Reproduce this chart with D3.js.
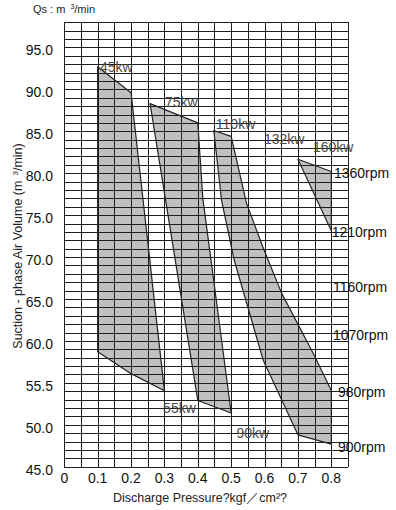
<!DOCTYPE html>
<html>
<head>
<meta charset="utf-8">
<script src="https://d3js.org/d3.v7.min.js"></script>
<style>
  body { margin: 0; background: #fff; }
  svg { display: block; font-family: "Liberation Sans", Arial, sans-serif; }
</style>
</head>
<body>
<div id="chart"></div>
<script>
// axis ticks
const xTicks = [0, 0.1, 0.2, 0.3, 0.4, 0.5, 0.6, 0.7, 0.8];
const yTicks = [45, 50, 55, 60, 65, 70, 75, 80, 85, 90, 95];
const yTickLabels = ["45.0", "50.0", "55.5", "60.0", "65.0", "70.0", "75.0", "80.0", "85.0", "90.0", "95.0"];

// operating envelopes: [pressure kgf/cm2, suction volume m3/min]
const envelopeA = [[0.1, 92.7], [0.2, 89.6], [0.3, 54.05], [0.2, 56.1], [0.1, 58.7]];
const envelopeB = [[0.257, 88.3], [0.4, 86.0], [0.415, 77.0], [0.455, 65.0], [0.5, 51.4], [0.4, 52.9]];
const envelopeC = [[0.448, 85.1], [0.5, 84.4], [0.546, 76.4], [0.594, 71.3], [0.651, 65.7],
                   [0.746, 58.5], [0.8, 54.1], [0.8, 47.7], [0.7, 48.8], [0.596, 57.7],
                   [0.509, 69.65], [0.471, 76.8]];
const envelopeD = [[0.7, 81.66], [0.8, 80.2], [0.8, 73.15]];
const envelopes = [envelopeA, envelopeB, envelopeC, envelopeD];

// motor power labels, anchored in data units
const kwNames = ["45kw", "75kw", "110kw", "132kw", "160kw", "55kw", "90kw"];
const kwPressure = [0.107, 0.3015, 0.454, 0.598, 0.745, 0.296, 0.516];
const kwVolume = [92.1, 87.93, 85.24, 83.49, 82.57, 51.37, 48.39];

// speed labels on the right
const rpmNames = ["1360rpm", "1210rpm", "1160rpm", "1070rpm", "980rpm", "900rpm"];
const rpmPressure = [0.808, 0.801, 0.805, 0.805, 0.82, 0.82];
const rpmVolume = [79.43, 72.43, 65.87, 60.11, 53.35, 46.79];

const W = 396, H = 510;
const svg = d3.select("#chart").append("svg").attr("width", W).attr("height", H);

const x = d3.scaleLinear().domain([0, 0.85]).range([64.3, 348]);
const y = d3.scaleLinear().domain([45, 98]).range([466.7, 22.3]);

const line = d3.line().x(d => x(d[0])).y(d => y(d[1]));

// fills under the grid
svg.append("g").selectAll("path").data(envelopes).join("path")
  .attr("d", d => line(d) + "Z")
  .attr("fill", "#c0c0c0")
  .attr("stroke", "none");

// grid
const plotH = y(45) - y(98), plotW = x(0.85) - x(0);
const gx = svg.append("g").attr("transform", `translate(0,${y(45)})`)
  .call(d3.axisBottom(x).ticks(17).tickSize(-plotH).tickFormat(""));
const gy = svg.append("g").attr("transform", `translate(${x(0)},0)`)
  .call(d3.axisLeft(y).ticks(53).tickSize(-plotW).tickFormat(""));
[gx, gy].forEach(g => {
  g.select(".domain").remove();
  g.selectAll("line").attr("stroke", "#1e1e1e").attr("stroke-width", 1).attr("shape-rendering", "crispEdges");
});

// outlines
svg.append("g").selectAll("path").data(envelopes).join("path")
  .attr("d", d => line(d) + "Z")
  .attr("fill", "none")
  .attr("stroke", "#222")
  .attr("stroke-width", 1.2)
  .attr("stroke-linejoin", "round");

// tick labels
svg.append("g").selectAll("text").data(xTicks).join("text")
  .attr("x", d => x(d)).attr("y", 483)
  .attr("text-anchor", "middle").attr("font-size", 14).attr("fill", "#111")
  .text(d => d === 0 ? "0" : d3.format(".1f")(d));

svg.append("g").selectAll("text").data(yTicks).join("text")
  .attr("x", 53).attr("y", d => y(d) + 8)
  .attr("text-anchor", "end").attr("font-size", 14).attr("fill", "#111")
  .text((d, i) => yTickLabels[i]);

// kw labels
svg.append("g").selectAll("text").data(kwNames).join("text")
  .attr("x", (d, i) => x(kwPressure[i])).attr("y", (d, i) => y(kwVolume[i]))
  .attr("font-size", 14).attr("fill", "#4a4a4a")
  .text(d => d);

// rpm labels
svg.append("g").selectAll("text").data(rpmNames).join("text")
  .attr("x", (d, i) => x(rpmPressure[i])).attr("y", (d, i) => y(rpmVolume[i]))
  .attr("font-size", 14).attr("fill", "#111")
  .text(d => d);

// unit at top
const unitLabel = svg.append("text").attr("x", 33).attr("y", 12.5).attr("font-size", 11).attr("fill", "#222");
unitLabel.append("tspan").text("Qs : m");
unitLabel.append("tspan").attr("dx", 5).attr("dy", -4).attr("font-size", 7).text("3");
unitLabel.append("tspan").attr("dy", 4).text("/min");

// y title
const yTitle = svg.append("text").attr("transform", "translate(22,246) rotate(-90)")
  .attr("text-anchor", "middle").attr("font-size", 12.5).attr("fill", "#222");
yTitle.append("tspan").text("Suction - phase Air Volume (m");
yTitle.append("tspan").attr("dx", 5).attr("dy", -4).attr("font-size", 8).text("3");
yTitle.append("tspan").attr("dy", 4).text("/min)");

// x title
svg.append("text").attr("x", 200).attr("y", 502).attr("text-anchor", "middle")
  .attr("font-size", 12.5).attr("fill", "#222")
  .text("Discharge Pressure?kgf／cm²?");
</script>
</body>
</html>
